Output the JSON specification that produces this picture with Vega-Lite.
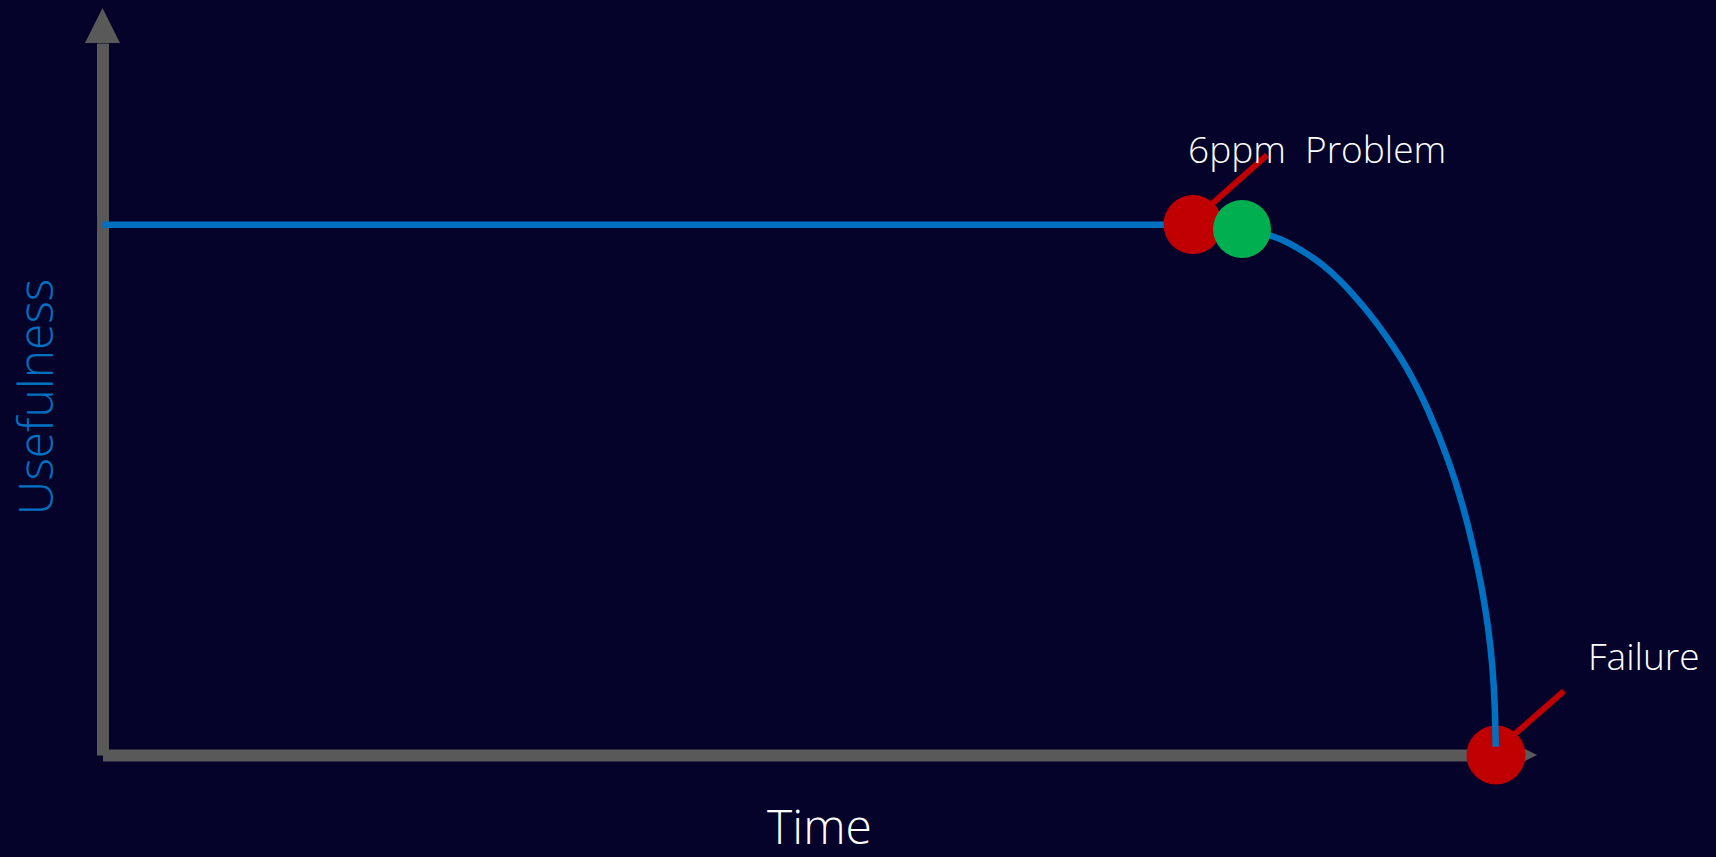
{
  "$schema": "https://vega.github.io/schema/vega-lite/v6.json",
  "width": 1422.5,
  "height": 712,
  "autosize": "none",
  "padding": {"left": 102.5, "top": 43, "right": 191, "bottom": 102},
  "background": "#050329",
  "config": {
    "view": {"stroke": null},
    "axis": {
      "domainColor": "#595959",
      "domainWidth": 12,
      "domainCap": "butt",
      "ticks": false,
      "labels": false,
      "grid": false,
      "titleFont": "Open Sans",
      "titleFontWeight": 300,
      "titleFontSize": 48
    }
  },
  "datasets": {
    "curve": [
      {"t": 0, "u": 74.48},
      {"t": 40, "u": 74.48},
      {"t": 72, "u": 74.48},
      {"t": 76.66, "u": 74.48},
      {"t": 78.21, "u": 74.37},
      {"t": 80.11, "u": 73.95},
      {"t": 82.19, "u": 73.03},
      {"t": 83.48, "u": 71.87},
      {"t": 84.65, "u": 70.46},
      {"t": 85.82, "u": 68.82},
      {"t": 86.99, "u": 66.71},
      {"t": 88.17, "u": 64.14},
      {"t": 89.34, "u": 61.33},
      {"t": 90.51, "u": 58.05},
      {"t": 91.68, "u": 54.54},
      {"t": 93.18, "u": 48.74},
      {"t": 94.73, "u": 40.97},
      {"t": 95.66, "u": 34.87},
      {"t": 96.37, "u": 29.26},
      {"t": 96.96, "u": 23.64},
      {"t": 97.42, "u": 18.02},
      {"t": 97.73, "u": 12.4},
      {"t": 97.89, "u": 6.78},
      {"t": 97.94, "u": 1.17}
    ],
    "pointers": [
      {"t": 77.15, "u": 75.9, "t2": 81.87, "u2": 84.27},
      {"t": 98.24, "u": 1.12, "t2": 102.74, "u2": 8.99}
    ],
    "topEvents": [
      {"t": 76.66, "u": 74.5, "kind": "problem"},
      {"t": 80.11, "u": 73.88, "kind": "detected"}
    ],
    "failure": [
      {"t": 97.96, "u": 0, "kind": "failure"}
    ],
    "labels": [
      {"t": 76.31, "u": 83.15, "label": "6ppm\u00a0 Problem"},
      {"t": 104.43, "u": 11.94, "label": "Failure"}
    ],
    "yArrow": [{"t": 0, "u": 102.46}],
    "xArrow": [{"t": 100.42, "u": 0}]
  },
  "layer": [
    {
      "data": {"name": "xArrow"},
      "mark": {"type": "point", "shape": "M-1,-1L1,0L-1,1Z", "filled": true, "color": "#595959", "opacity": 1, "size": 144, "strokeWidth": 0},
      "encoding": {
        "x": {"field": "t", "type": "quantitative", "scale": {"domain": [0, 100], "nice": false, "zero": false},
          "axis": {"title": "Time", "titleColor": "#ffffff", "titleX": 716.5, "titleY": 88, "titleAlign": "center", "titleBaseline": "alphabetic"}},
        "y": {"field": "u", "type": "quantitative", "scale": {"domain": [0, 100], "nice": false, "zero": false},
          "axis": {"title": "Usefulness", "titleColor": "#0070c0", "titleX": -50.5, "titleY": 353.5, "titleAngle": 270, "titleAlign": "center", "titleBaseline": "alphabetic"}}
      }
    },
    {
      "data": {"name": "yArrow"},
      "mark": {"type": "point", "shape": "M0,-1L-1,1L1,1Z", "filled": true, "color": "#595959", "opacity": 1, "size": 1225, "strokeWidth": 0},
      "encoding": {
        "x": {"field": "t", "type": "quantitative"},
        "y": {"field": "u", "type": "quantitative"}
      }
    },
    {
      "data": {"name": "pointers"},
      "mark": {"type": "rule", "color": "#c00000", "strokeWidth": 6, "strokeCap": "butt"},
      "encoding": {
        "x": {"field": "t", "type": "quantitative"},
        "y": {"field": "u", "type": "quantitative"},
        "x2": {"field": "t2"},
        "y2": {"field": "u2"}
      }
    },
    {
      "data": {"name": "failure"},
      "mark": {"type": "point", "shape": "circle", "filled": true, "color": "#c00000", "opacity": 1, "size": 3481, "strokeWidth": 0},
      "encoding": {
        "x": {"field": "t", "type": "quantitative"},
        "y": {"field": "u", "type": "quantitative"}
      }
    },
    {
      "data": {"name": "curve"},
      "mark": {"type": "line", "color": "#0070c0", "strokeWidth": 6.5, "interpolate": "basis", "strokeCap": "butt"},
      "encoding": {
        "x": {"field": "t", "type": "quantitative"},
        "y": {"field": "u", "type": "quantitative"}
      }
    },
    {
      "data": {"name": "topEvents"},
      "mark": {"type": "point", "shape": "circle", "filled": true, "opacity": 1, "strokeWidth": 0},
      "encoding": {
        "x": {"field": "t", "type": "quantitative"},
        "y": {"field": "u", "type": "quantitative"},
        "color": {"field": "kind", "type": "nominal", "scale": {"domain": ["problem", "detected"], "range": ["#c00000", "#00b050"]}, "legend": null},
        "size": {"field": "kind", "type": "nominal", "scale": {"domain": ["problem", "detected"], "range": [3481, 3364]}, "legend": null}
      }
    },
    {
      "data": {"name": "labels"},
      "mark": {"type": "text", "align": "left", "baseline": "alphabetic", "font": "Open Sans", "fontWeight": 300, "fontSize": 37, "color": "#ffffff"},
      "encoding": {
        "x": {"field": "t", "type": "quantitative"},
        "y": {"field": "u", "type": "quantitative"},
        "text": {"field": "label"}
      }
    }
  ]
}
